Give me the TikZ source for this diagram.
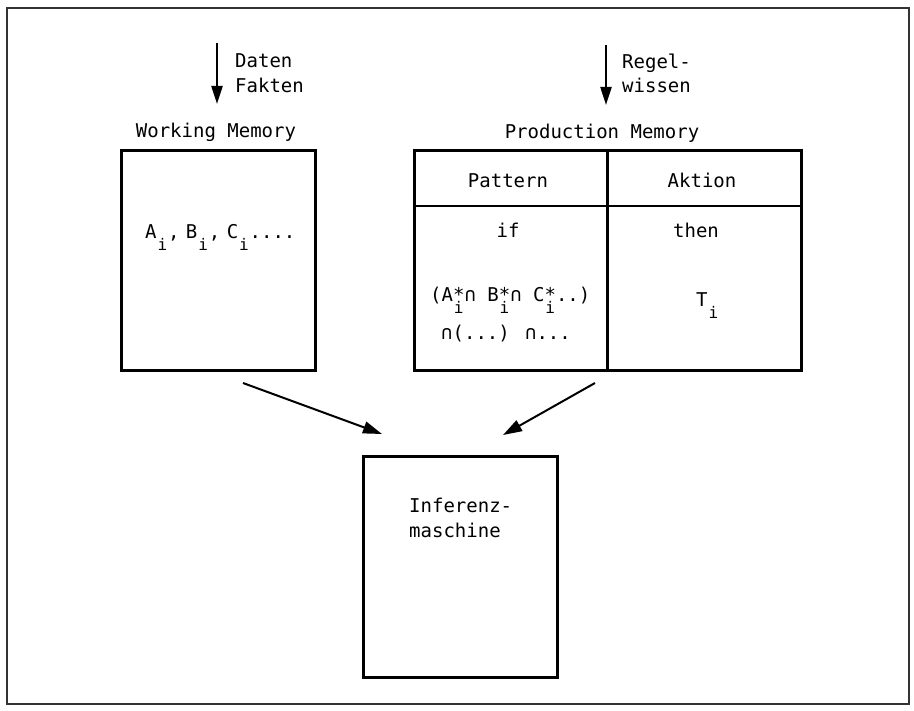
\documentclass[tikz,border=0pt]{standalone}
\usepackage{fontspec}
\setmainfont{DejaVu Sans Mono}
\usetikzlibrary{arrows.meta}
\newcommand\Isub{\makebox[0.602em]{\raisebox{-0.62em}{\fontsize{16}{16}\selectfont i}}}
\newcommand\Ssub{\rlap{\makebox[0.602em]{\raisebox{0.05em}{*}}}\Isub}
\begin{document}
\begin{tikzpicture}[x=1pt,y=-1pt,
  every node/.style={font=\fontsize{19}{25}\selectfont, inner sep=0pt},
  box/.style={draw, line width=3pt, minimum width=194pt, minimum height=220pt},
  txt/.style={anchor=base west},
  ctxt/.style={anchor=base},
  arr/.style={line width=2.2pt, -{Triangle[length=18pt,width=11pt]}},
  darr/.style={line width=2pt, -{Triangle[length=19pt,width=12pt]}}]
\useasboundingbox (0,0) rectangle (914,711);
\draw[line width=1.4pt, black!80] (7,8) rectangle (909,704);

% boxes
\node[box] (WM) at (218,260.5) {};
\node[box, minimum width=387pt] (PM) at (607.5,260.5) {};
\node[box] (IM) at (460,567) {};

% table lines
\draw[line width=2.4pt] (PM.north) -- (PM.south);
\draw[line width=2.4pt] ([yshift=-57pt]PM.north west) -- ([yshift=-57pt]PM.north east);

% top input arrows
\coordinate (d1) at (217,43);
\coordinate (d2) at (217,104);
\draw[arr] (d1) -- (d2);
\node[txt] (daten) at (235,68) {Daten};
\node[txt] (fakten) at (235,93) {Fakten};

\coordinate (r1) at (606,45);
\coordinate (r2) at (606,105);
\draw[arr] (r1) -- (r2);
\node[txt] (regel) at (622,69) {Regel-};
\node[txt] (wissen) at (622,93) {wissen};

% labels
\node[ctxt] (wml) at (216,138) {Working Memory};
\node[ctxt] (pml) at (602,139) {Production Memory};

% working memory content
\node[txt] (abc) at (145,239) {A\Isub,\hspace{0.34em}B\Isub,\hspace{0.34em}C\Isub....};

% production memory content
\node[ctxt] (pat) at (508,188) {Pattern};
\node[ctxt] (akt) at (702,188) {Aktion};
\node[ctxt] (if) at (508,238) {if};
\node[ctxt] (then) at (696,238) {then};
\node[txt] (cond1) at (430,302) {(A\Ssub∩ B\Ssub∩ C\Ssub..)};
\node[txt] (cond2) at (441,340) {∩(...) ∩...};
\node[txt] (ti) at (696,307) {T\Isub};

% inference engine
\node[txt] (inf1) at (409,513) {Inferenz-};
\node[txt] (inf2) at (409,537) {maschine};

% diagonal arrows
\coordinate (a1s) at (243,383);
\coordinate (a1e) at (382,434);
\coordinate (a2s) at (595,383);
\coordinate (a2e) at (503,435);
\draw[darr] (a1s) -- (a1e);
\draw[darr] (a2s) -- (a2e);
\end{tikzpicture}
\end{document}
